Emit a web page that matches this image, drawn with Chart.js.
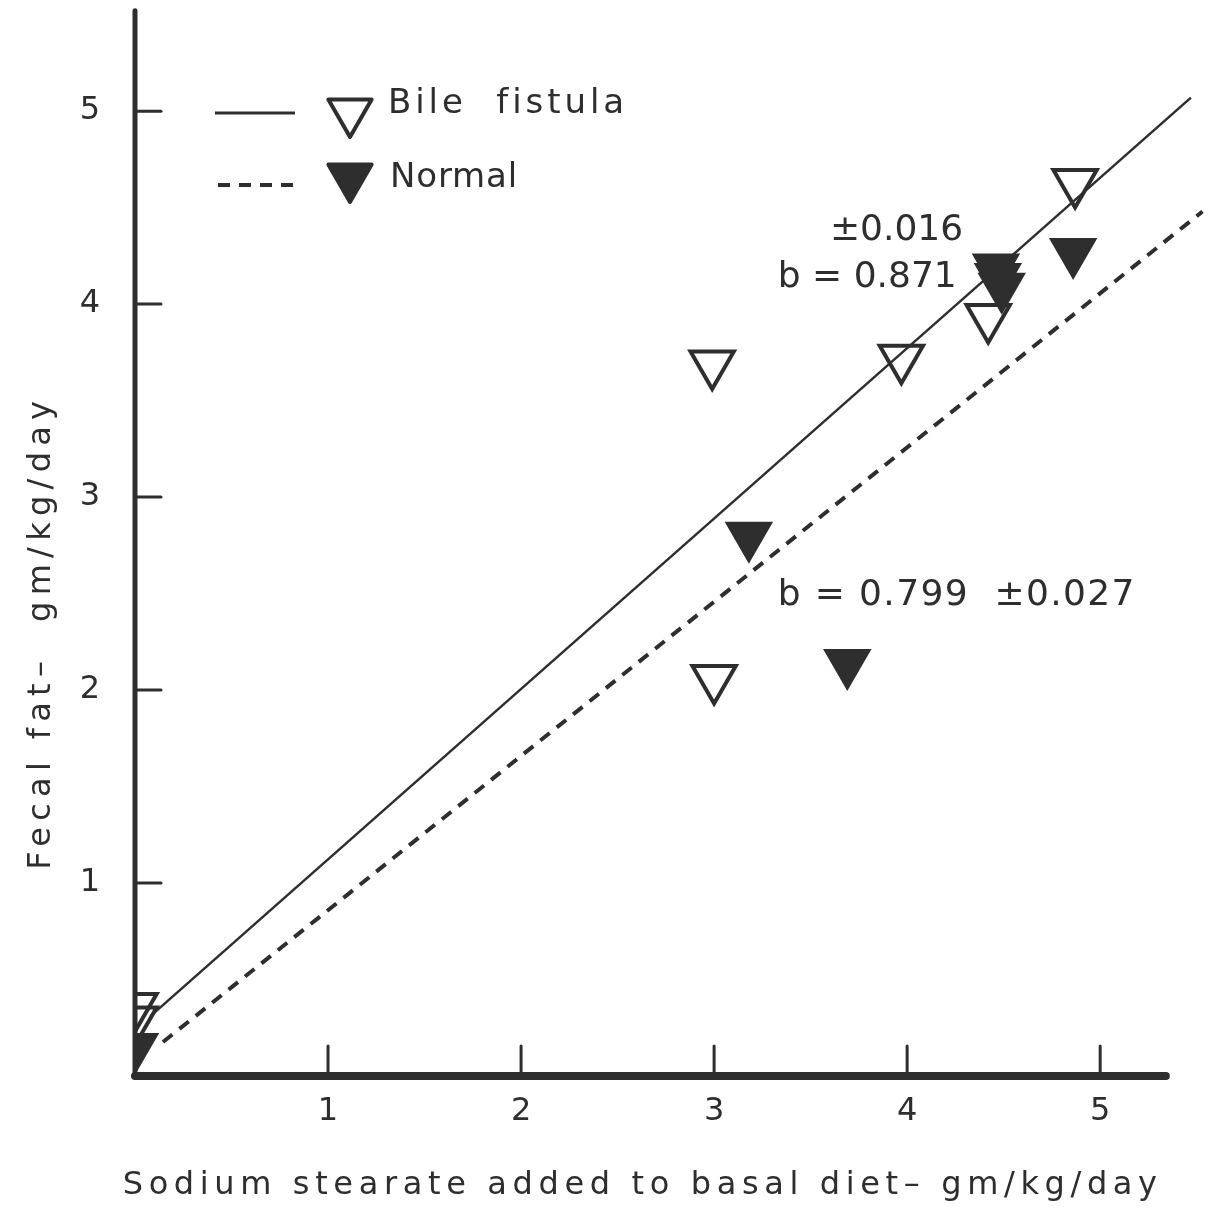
<!DOCTYPE html>
<html>
<head>
<meta charset="utf-8">
<script src="https://cdn.jsdelivr.net/npm/chart.js@4.4.0/dist/chart.umd.min.js"></script>
<style>
  body { margin: 0; background: #ffffff; }
  #wrap { width: 1221px; height: 1214px; position: relative; }
</style>
</head>
<body>
<div id="wrap"><canvas id="grafico"></canvas></div>
<script>
// Datos
const bileX = [0, 0, 2.99, 3.0, 3.97, 4.42, 4.87];
const bileY = [0.29, 0.36, 3.69, 2.06, 3.72, 3.93, 4.63];
const normalX = [0, 3.18, 3.69, 4.46, 4.47, 4.49, 4.86];
const normalY = [0.15, 2.80, 2.14, 4.19, 4.14, 4.09, 4.27];

// Rectas de regresion (extremos)
const bileLineX = [0.08, 5.47];
const bileLineY = [0.31, 5.07];
const normalLineX = [0.145, 5.53];
const normalLineY = [0.176, 4.48];

const xTicks = [1, 2, 3, 4, 5];
const yTicks = [1, 2, 3, 4, 5];
const xAxisEnd = 5.34;
const yAxisTop = 5.52;

const serieNombres = ['Bile  fistula', 'Normal'];
const tituloX = 'Sodium stearate added to basal diet\u2013 gm/kg/day';
const tituloY = 'Fecal fat\u2013  gm/kg/day';
const anotaciones = ['\u00b10.016', 'b = 0.871', 'b = 0.799  \u00b10.027'];

const tinta = '#2e2e2e';
const fuente = '"DejaVu Sans", sans-serif';

function trianguloAbajo(ctx, cx, cy, r, relleno) {
    const s = r * Math.sin(Math.PI / 3);
    ctx.beginPath();
    ctx.moveTo(cx - s, cy - r / 2);
    ctx.lineTo(cx + s, cy - r / 2);
    ctx.lineTo(cx, cy + r);
    ctx.closePath();
    if (relleno) {
        ctx.fillStyle = tinta;
        ctx.fill();
    }
    ctx.lineJoin = 'round';
    ctx.lineWidth = 4;
    ctx.strokeStyle = tinta;
    ctx.stroke();
}

function textoEspaciado(ctx, texto, ancho) {
    ctx.letterSpacing = '0px';
    const w = ctx.measureText(texto).width;
    const extra = Math.max(0, (ancho - w) / texto.length);
    ctx.letterSpacing = extra + 'px';
}

const dibujoPapel = {
    id: 'dibujoPapel',
    beforeDatasetsDraw(chart) {
        const { ctx, scales: { x, y } } = chart;
        const x0 = x.getPixelForValue(0);
        const y0 = y.getPixelForValue(0);
        ctx.save();
        ctx.strokeStyle = tinta;
        ctx.lineCap = 'round';

        // eje y
        ctx.lineWidth = 5;
        ctx.beginPath();
        ctx.moveTo(x0, y0);
        ctx.lineTo(x0, y.getPixelForValue(yAxisTop));
        ctx.stroke();

        // eje x
        ctx.lineWidth = 8;
        ctx.beginPath();
        ctx.moveTo(x0, y0);
        ctx.lineTo(x.getPixelForValue(xAxisEnd), y0);
        ctx.stroke();

        // marcas hacia dentro
        ctx.lineWidth = 3;
        yTicks.forEach(v => {
            const py = y.getPixelForValue(v);
            ctx.beginPath();
            ctx.moveTo(x0, py);
            ctx.lineTo(x0 + 26, py);
            ctx.stroke();
        });
        xTicks.forEach(v => {
            const px = x.getPixelForValue(v);
            ctx.beginPath();
            ctx.moveTo(px, y0);
            ctx.lineTo(px, y0 - 30);
            ctx.stroke();
        });
        ctx.restore();
    },
    afterDatasetsDraw(chart) {
        const { ctx, chartArea, scales: { x, y } } = chart;
        const izq = chartArea.left;
        const arr = chartArea.top;
        ctx.save();
        ctx.fillStyle = tinta;
        ctx.strokeStyle = tinta;
        ctx.textBaseline = 'middle';
        ctx.textAlign = 'left';

        // leyenda
        ctx.lineWidth = 3;
        ctx.beginPath();
        ctx.moveTo(izq + 80, arr + 108);
        ctx.lineTo(izq + 160, arr + 108);
        ctx.stroke();
        ctx.lineWidth = 4;
        ctx.setLineDash([12, 9]);
        ctx.beginPath();
        ctx.moveTo(izq + 83, arr + 180);
        ctx.lineTo(izq + 163, arr + 180);
        ctx.stroke();
        ctx.setLineDash([]);
        trianguloAbajo(ctx, izq + 215, arr + 107, 25, false);
        trianguloAbajo(ctx, izq + 215, arr + 172, 25, true);

        ctx.font = '34px ' + fuente;
        textoEspaciado(ctx, serieNombres[0], 240);
        ctx.fillText(serieNombres[0], izq + 253, arr + 99);
        textoEspaciado(ctx, serieNombres[1], 128);
        ctx.fillText(serieNombres[1], izq + 255, arr + 173);

        // anotaciones de pendiente
        ctx.textBaseline = 'alphabetic';
        ctx.font = '36px ' + fuente;
        textoEspaciado(ctx, anotaciones[0], 132);
        ctx.fillText(anotaciones[0], x.getPixelForValue(3.60), y.getPixelForValue(4.33));
        textoEspaciado(ctx, anotaciones[1], 160);
        ctx.fillText(anotaciones[1], x.getPixelForValue(3.33), y.getPixelForValue(4.09));
        textoEspaciado(ctx, anotaciones[2], 358);
        ctx.fillText(anotaciones[2], x.getPixelForValue(3.33), y.getPixelForValue(2.44));

        // titulos de ejes
        ctx.textAlign = 'center';
        ctx.textBaseline = 'middle';
        ctx.font = '32px ' + fuente;
        textoEspaciado(ctx, tituloX, 1040);
        ctx.fillText(tituloX, x.getPixelForValue(2.63), chart.height - 28);

        ctx.translate(42, y.getPixelForValue(2.3));
        ctx.rotate(-Math.PI / 2);
        textoEspaciado(ctx, tituloY, 475);
        ctx.fillText(tituloY, 0, 0);
        ctx.restore();
    }
};

const ctxGrafico = document.getElementById('grafico').getContext('2d');
const grafico = new Chart(ctxGrafico, {
    type: 'scatter',
    data: {
        datasets: [
            {
                label: 'Bile fistula line',
                type: 'line',
                data: bileLineX.map((v, i) => ({ x: v, y: bileLineY[i] })),
                borderColor: tinta,
                borderWidth: 2.5,
                pointRadius: 0,
                fill: false
            },
            {
                label: 'Normal line',
                type: 'line',
                data: normalLineX.map((v, i) => ({ x: v, y: normalLineY[i] })),
                borderColor: tinta,
                borderWidth: 4,
                borderDash: [12, 9],
                pointRadius: 0,
                fill: false
            },
            {
                label: 'Bile fistula',
                data: bileX.map((v, i) => ({ x: v, y: bileY[i] })),
                pointStyle: 'triangle',
                rotation: 180,
                pointRadius: 25,
                backgroundColor: 'rgba(0,0,0,0)',
                borderColor: tinta,
                borderWidth: 4
            },
            {
                label: 'Normal',
                data: normalX.map((v, i) => ({ x: v, y: normalY[i] })),
                pointStyle: 'triangle',
                rotation: 180,
                pointRadius: 25,
                backgroundColor: tinta,
                borderColor: tinta,
                borderWidth: 3
            }
        ]
    },
    options: {
        responsive: true,
        maintainAspectRatio: false,
        animation: false,
        layout: { autoPadding: false, padding: { top: 5, right: 5, left: 0, bottom: 0 } },
        plugins: {
            legend: { display: false },
            tooltip: { enabled: false }
        },
        scales: {
            x: {
                type: 'linear',
                min: 0,
                max: 5.6,
                grid: { display: false, drawTicks: false },
                border: { display: false },
                afterBuildTicks: s => { s.ticks = xTicks.map(v => ({ value: v })); },
                afterFit: s => {
                    s.height = 138;
                    s.paddingLeft = 0;
                    s.paddingRight = 0;
                },
                ticks: {
                    color: tinta,
                    padding: 16,
                    maxRotation: 0,
                    font: { family: fuente, size: 32 }
                }
            },
            y: {
                type: 'linear',
                min: 0,
                max: 5.55,
                grid: { display: false, drawTicks: false },
                border: { display: false },
                afterBuildTicks: s => { s.ticks = yTicks.map(v => ({ value: v })); },
                afterFit: s => {
                    s.width = 135;
                    s.paddingTop = 0;
                    s.paddingBottom = 0;
                },
                ticks: {
                    color: tinta,
                    padding: 35,
                    font: { family: fuente, size: 32 }
                }
            }
        }
    },
    plugins: [dibujoPapel]
});
</script>
</body>
</html>
